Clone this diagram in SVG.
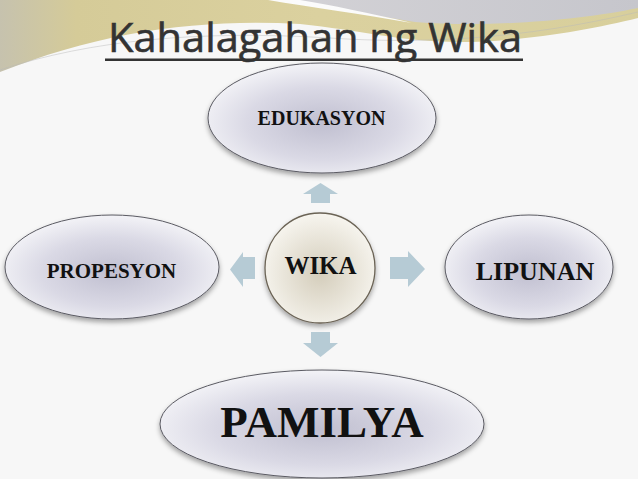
<svg xmlns="http://www.w3.org/2000/svg" width="638" height="479" viewBox="0 0 638 479">
<style>
.lbl{font-family:"Liberation Serif","Times New Roman",serif;font-weight:bold;fill:#111;text-anchor:middle}
.oval{fill:url(#gOval);stroke:#5a5a62;stroke-width:1;filter:url(#sh)}
.arr{fill:#b6cbd5}
</style>
<defs>
<radialGradient id="gOval" cx="0.5" cy="0.55" r="0.55">
<stop offset="0" stop-color="#c0bfd0"/>
<stop offset="0.6" stop-color="#dad9e5"/>
<stop offset="1" stop-color="#f3f3f7"/>
</radialGradient>
<radialGradient id="gWika" cx="0.5" cy="0.55" r="0.55">
<stop offset="0" stop-color="#d4cdbb"/>
<stop offset="0.6" stop-color="#e9e5da"/>
<stop offset="1" stop-color="#f7f5ef"/>
</radialGradient>
<linearGradient id="gKhaki" x1="0" y1="0" x2="1" y2="0">
<stop offset="0" stop-color="#c6c2ae"/>
<stop offset="0.12" stop-color="#d5cb98"/>
<stop offset="0.5" stop-color="#dbd19f"/>
<stop offset="1" stop-color="#d8cf9c"/>
</linearGradient>
<linearGradient id="gGray" x1="0" y1="0" x2="1" y2="0">
<stop offset="0" stop-color="#d3d2d6"/>
<stop offset="1" stop-color="#c6c6cc"/>
</linearGradient>
<filter id="sh" x="-10%" y="-10%" width="120%" height="130%">
<feDropShadow dx="0" dy="3" stdDeviation="2.5" flood-color="#000" flood-opacity="0.35"/>
</filter>
</defs>
<rect width="638" height="479" fill="#f7f7f7"/>
<g id="background">
<path d="M0,0 H638 V18 C590,30 520,42 460,42 C400,42 360,30 300,24 C200,18 100,32 0,72 Z" fill="url(#gKhaki)"/>
<path d="M290,0 H638 V8 C580,20 490,28 415,22 C370,15 330,7 290,0 Z" fill="url(#gGray)"/>
<path d="M268,0 C310,7 360,14 412,23 C370,13 330,5 300,0 Z" fill="#fbfbfb"/>
<path d="M0,70 C90,40 200,30 330,38 C420,44 520,40 638,12" fill="none" stroke="#b9b9b9" stroke-width="0.8" opacity="0.6"/>
</g>
<g id="title">
<text x="108" y="52" font-family="'Open Sans','DejaVu Sans',sans-serif" font-size="40" fill="#333" stroke="#333" stroke-width="0.6" textLength="414" lengthAdjust="spacingAndGlyphs">Kahalagahan ng Wika</text>
<rect x="105" y="58.5" width="418" height="2.5" fill="#333"/>
</g>
<g id="connectors">
<path class="arr" d="M320.5,183 L338,194 L330,194 L330,203 L311,203 L311,194 L303,194 Z"/>
<path class="arr" d="M311,332 H330 V343 H338 L320.5,357 L303,343 H311 Z"/>
<path class="arr" d="M230,269.5 L243,252 V257 H255 V279 H243 V287 Z"/>
<path class="arr" d="M390,257 H408 V251 L425,269 L408,287 V279 H390 Z"/>
</g>
<g id="node-edukasyon">
<ellipse class="oval" cx="322" cy="118" rx="114" ry="55"/>
<text class="lbl" x="321.5" y="125" font-size="20">EDUKASYON</text>
</g>
<g id="node-propesyon">
<ellipse class="oval" cx="112" cy="267" rx="107" ry="52"/>
<text class="lbl" x="111.5" y="278" font-size="21">PROPESYON</text>
</g>
<g id="node-lipunan">
<ellipse class="oval" cx="529" cy="267" rx="84" ry="52"/>
<text class="lbl" x="535" y="280" font-size="26">LIPUNAN</text>
</g>
<g id="node-wika">
<circle cx="320" cy="268" r="55" fill="url(#gWika)" stroke="#6b6355" stroke-width="1.3" filter="url(#sh)"/>
<text class="lbl" x="320.5" y="274" font-size="25">WIKA</text>
</g>
<g id="node-pamilya">
<ellipse class="oval" cx="322" cy="424" rx="162" ry="54"/>
<text class="lbl" x="322" y="437" font-size="45">PAMILYA</text>
</g>
</svg>
